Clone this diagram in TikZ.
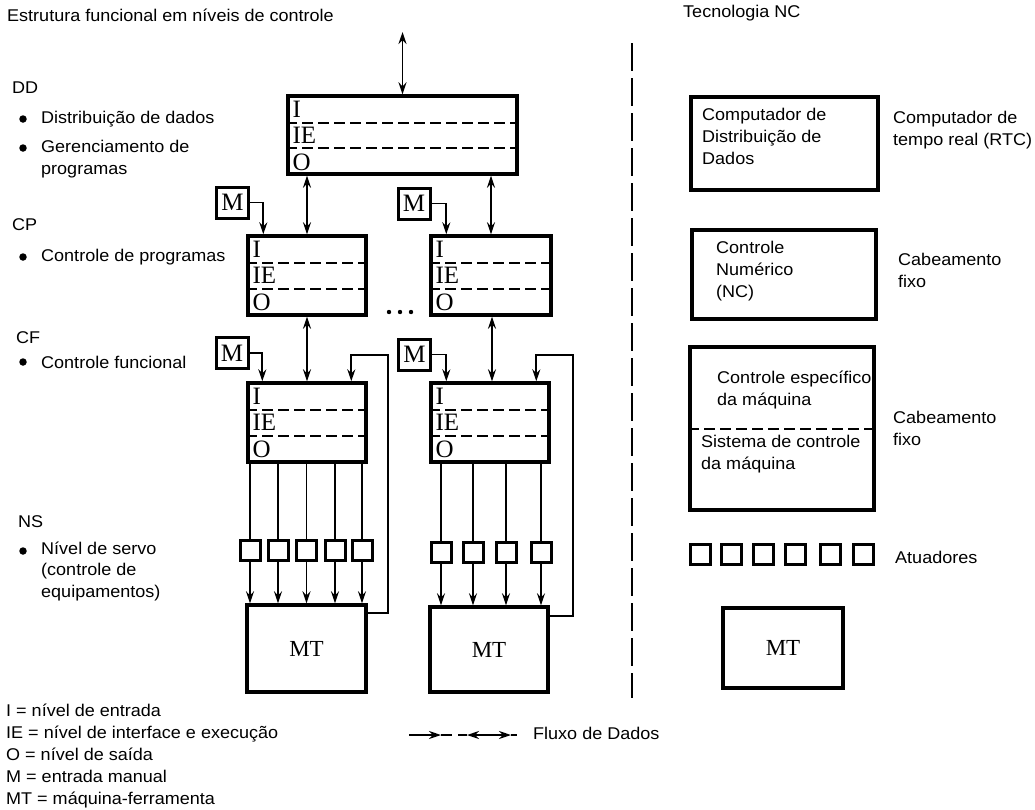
\documentclass[tikz,border=0pt]{standalone}
\usepackage{fontspec}
\setmainfont{Liberation Sans}[FakeStretch=1.06]
\newfontfamily\serifface{Liberation Serif}
\usetikzlibrary{arrows.meta,calc,positioning}

\tikzset{
 lvbox/.style={draw,line width=3.4pt,inner sep=0pt},
 rowsep/.style={line width=2pt,dash pattern=on 11pt off 5pt},
 boxlbl/.style={font=\serifface\fontsize{25}{25}\selectfont,inner sep=0pt,anchor=west},
 mbox/.style={draw,line width=3pt,inner sep=0pt,minimum width=32pt,minimum height=31pt,font=\serifface\fontsize{25}{25}\selectfont},
 servo/.style={draw,line width=3pt,inner sep=0pt,minimum size=20pt},
 flow/.style={line width=1.8pt,>={Stealth[length=12pt,width=8pt,inset=4pt]}},
 txt/.style={anchor=west,inner sep=0pt,align=left},
 bul/.style={circle,fill,inner sep=0pt,minimum size=7.5pt},
}

\begin{document}
\begin{tikzpicture}[x=1pt,y=-1pt,font=\fontsize{17}{21.5}\selectfont]
\useasboundingbox (0,0) rectangle (1035,809);

% headings
\node[txt] (title) at (7,15) {Estrutura funcional em níveis de controle};
\node[txt] (tecnc) at (683,13) {Tecnologia NC};

% levels on the left
\node[txt] (ddlbl) at (12,88) {DD};
\node[bul] (b1) at (23,119) {};
\node[txt] (b1txt) at (41,119) {Distribuição de dados};
\node[bul] (b2) at (23,148) {};
\node[txt] (b2txt) at (41,159) {Gerenciamento de\\programas};
\node[txt] (cplbl) at (12,225) {CP};
\node[bul] (b3) at (23,257) {};
\node[txt] (b3txt) at (41,257) {Controle de programas};
\node[txt] (cflbl) at (16,338) {CF};
\node[bul] (b4) at (23,362) {};
\node[txt] (b4txt) at (41,362) {Controle funcional};
\node[txt] (nslbl) at (18,522) {NS};
\node[bul] (b5) at (23,551) {};
\node[txt] (b5txt) at (41,571) {Nível de servo\\(controle de\\equipamentos)};

% level boxes with I / IE / O rows
\foreach \nm/\cx/\cy/\w/\h in {dd/402.5/135/229/78, cpa/307/275.5/118/79, cpb/491/275.5/120/79, cfa/307/422.5/118/79, cfb/490/422.5/118/79} {
 \node[lvbox,minimum width=\w pt,minimum height=\h pt] (\nm) at (\cx,\cy) {};
 \draw[rowsep] ($(\nm.north west)!0.35!(\nm.south west)$) -- ($(\nm.north east)!0.35!(\nm.south east)$);
 \draw[rowsep] ($(\nm.north west)!0.66!(\nm.south west)$) -- ($(\nm.north east)!0.66!(\nm.south east)$);
 \node[boxlbl] at ($(\nm.north west)!0.18!(\nm.south west)+(6,0)$) {I};
 \node[boxlbl] at ($(\nm.north west)!0.50!(\nm.south west)+(6,0)$) {IE};
 \node[boxlbl] at ($(\nm.north west)!0.83!(\nm.south west)+(6,0)$) {O};
}
\foreach \dx in {389,400,411} \fill (\dx,312) circle (2.2pt);

% manual inputs
\node[mbox] (ma1) at (232.5,202.5) {M};
\node[mbox] (mb1) at (414,203.5) {M};
\node[mbox] (ma2) at (232,353) {M};
\node[mbox] (mb2) at (414.5,354.5) {M};

% machine tools
\node[lvbox,minimum width=119pt,minimum height=87pt,font=\serifface\fontsize{23}{23}\selectfont] (mta) at (306.5,648.5) {MT};
\node[lvbox,minimum width=118pt,minimum height=85pt,font=\serifface\fontsize{23}{23}\selectfont] (mtb) at (489,649.5) {MT};

% servo boxes
\foreach \i/\sx in {1/250,2/278,3/306.5,4/335,5/362} {
 \node[servo] (sa\i) at (\sx,550) {};
 \draw[flow] (sa\i.north |- cfa.south) -- (sa\i.north);
 \draw[flow,->] (sa\i.south) -- (sa\i.south |- mta.north);
}
\foreach \i/\sx in {1/441,2/473,3/506,4/541} {
 \node[servo] (sb\i) at (\sx,552) {};
 \draw[flow] (sb\i.north |- cfb.south) -- (sb\i.north);
 \draw[flow,->] (sb\i.south) -- (sb\i.south |- mtb.north);
}

% data flow
\coordinate (ext) at (402.5,32);
\draw[flow,<->] (ext) -- (dd.north);
\draw[flow,<->] (cpa.north |- dd.south) -- (cpa.north);
\draw[flow,<->] (cpb.north |- dd.south) -- (cpb.north);
\draw[flow,<->] (cfa.north |- cpa.south) -- (cfa.north);
\draw[flow,<->] ([xshift=2pt]cfb.north |- cpb.south) -- ([xshift=2pt]cfb.north);
\draw[flow,->] (ma1.east) -| ($(cpa.north west)+(17,0)$);
\draw[flow,->] (mb1.east) -| ($(cpb.north west)+(17,0)$);
\draw[flow,->] (ma2.east) -| ($(cfa.north west)+(16,0)$);
\draw[flow,->] (mb2.east) -| ($(cfb.north west)+(17,0)$);

% feedback from the machine
\coordinate (fba) at (388,355);
\coordinate (fbb) at (573,355);
\draw[flow,->] ($(mta.north east)+(0,10)$) -| (fba) -| ($(cfa.north west)+(105,0)$);
\draw[flow,->] ($(mtb.north east)+(0,11)$) -| (fbb) -| ($(cfb.north west)+(107,0)$);

% divider
\coordinate (divtop) at (632,43);
\coordinate (divbot) at (632,698);
\draw[line width=2.4pt,dash pattern=on 28pt off 7pt] (divtop) -- (divbot);

% NC technology column
\node[lvbox,minimum width=187pt,minimum height=93pt] (rtc) at (784.5,143.5) {};
\node[txt,font=\fontsize{17}{22}\selectfont] (rtctxt) at (702,136) {Computador de\\Distribuição de\\Dados};
\node[txt,font=\fontsize{17}{22}\selectfont] (rtclbl) at (893,130) {Computador de\\tempo real (RTC)};
\node[lvbox,minimum width=184pt,minimum height=89pt] (nc) at (784,274.5) {};
\node[txt,font=\fontsize{17}{22}\selectfont] (nctxt) at (716,271) {Controle\\Numérico\\(NC)};
\node[txt,font=\fontsize{17}{22}\selectfont] (nclbl) at (898,270) {Cabeamento\\fixo};
\node[lvbox,minimum width=184pt,minimum height=163pt] (mcs) at (782,428.5) {};
\draw[rowsep] (mcs.west) -- (mcs.east);
\node[txt,font=\fontsize{17}{22}\selectfont] (mcstxt) at (717,390) {Controle específico\\da máquina};
\node[txt,font=\fontsize{17}{22}\selectfont] (mcstxt2) at (701,454) {Sistema de controle\\da máquina};
\node[txt,font=\fontsize{17}{22}\selectfont] (mcslbl) at (893,428) {Cabeamento\\fixo};
\foreach \i/\ax in {1/700,2/731,3/763,4/795.5,5/830,6/863} \node[servo] (act\i) at (\ax,554) {};
\node[txt] (atlbl) at (895,557) {Atuadores};
\node[lvbox,minimum width=120pt,minimum height=80pt,font=\serifface\fontsize{23}{23}\selectfont] (mtc) at (783,648) {MT};

% legend
\node[txt,font=\fontsize{17}{22}\selectfont] (legend) at (6,756) {I = nível de entrada\\IE = nível de interface e execução\\O = nível de saída\\M = entrada manual\\MT = máquina-ferramenta};
\coordinate (fl1) at (409,735);
\coordinate (fl1m) at (441,735);
\coordinate (fl1e) at (452,735);
\draw[flow,->] (fl1) -- (fl1m);
\draw[flow] (fl1m) -- (fl1e);
\coordinate (fl2) at (458,735);
\coordinate (fl2a) at (467,735);
\coordinate (fl2b) at (511,735);
\coordinate (fl2e) at (517,735);
\draw[flow,<->] (fl2a) -- (fl2b);
\draw[flow] (fl2) -- (fl2a) (fl2b) -- (fl2e);
\node[txt] (fllbl) at (533,733) {Fluxo de Dados};
\end{tikzpicture}
\end{document}
